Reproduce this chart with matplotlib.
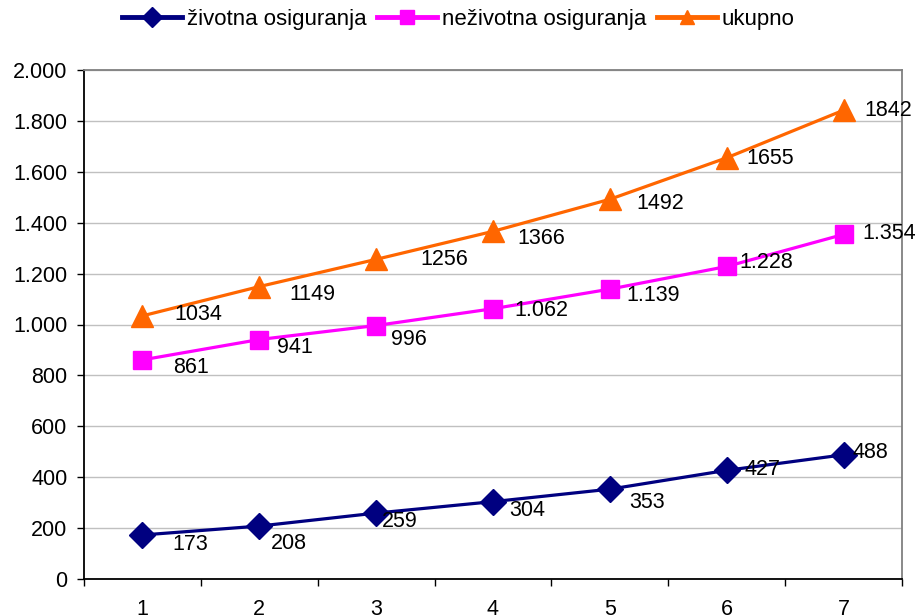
import matplotlib
matplotlib.use('Agg')
import matplotlib.pyplot as plt
from matplotlib.ticker import FuncFormatter, FixedLocator
from matplotlib.lines import Line2D

plt.rcParams['font.family'] = ['Liberation Sans', 'DejaVu Sans']

#%% data
categories = ['1', '2', '3', '4', '5', '6', '7']
zivotna = [173, 208, 259, 304, 353, 427, 488]
nezivotna = [861, 941, 996, 1062, 1139, 1228, 1354]
ukupno = [1034, 1149, 1256, 1366, 1492, 1655, 1842]

zivotna_lbl = ['173', '208', '259', '304', '353', '427', '488']
nezivotna_lbl = ['861', '941', '996', '1.062', '1.139', '1.228', '1.354']
ukupno_lbl = ['1034', '1149', '1256', '1366', '1492', '1655', '1842']

# label offsets in pixels (dx right, dy down)
off_ziv = [(48, 10), (30, 17), (24, 8), (34, 9), (37, 13), (36, -1), (27, -2)]
off_nez = [(49, 8), (36, 8), (33, 14), (48, 2), (43, 6), (40, -4), (46, -1)]
off_uk = [(56, -1), (53, 8), (68, 0), (48, 7), (50, 4), (43, 1), (45, 0)]

FS = 15.5

#%% plot
fig = plt.figure(figsize=(9.17, 6.16), dpi=100, facecolor='w')
ax = fig.add_axes([84/917, 37/616, 818/917, 509/616])

x = [i + 0.5 for i in range(len(categories))]
series = [
    (zivotna, zivotna_lbl, off_ziv, '#000080', 'D', 13, 'životna osiguranja'),
    (nezivotna, nezivotna_lbl, off_nez, '#FF00FF', 's', 13.5, 'neživotna osiguranja'),
    (ukupno, ukupno_lbl, off_uk, '#FF6600', '^', 16, 'ukupno'),
]
handles = []
for vals, lbls, offs, col, mk, ms, name in series:
    ax.plot(x, vals, color=col, lw=2.3, marker=mk, ms=ms, mec=col, mfc=col, zorder=3)
    for xi, v, t, (dx, dy) in zip(x, vals, lbls, offs):
        ax.annotate(t, (xi, v), xytext=(dx, -dy), textcoords='offset pixels',
                    ha='center', va='center', fontsize=FS, color='black', zorder=4)
    handles.append(Line2D([], [], color=col, lw=3.5, marker=mk, ms=10, mec=col, mfc=col, label=name))

ax.set_xlim(0, 7)
ax.set_ylim(0, 2000)
ax.set_yticks(range(0, 2001, 200))
ax.yaxis.set_major_formatter(FuncFormatter(lambda v, p: f'{int(v):,}'.replace(',', '.')))
ax.grid(True, axis='y', color='#c0c0c0', lw=1)
ax.set_axisbelow(True)

ax.xaxis.set_major_locator(FixedLocator(range(0, 8)))
ax.xaxis.set_minor_locator(FixedLocator(x))
ax.set_xticklabels([], minor=False)
ax.set_xticklabels(categories, minor=True)
ax.tick_params(axis='x', which='major', direction='out', length=5, width=1, color='black')
ax.tick_params(axis='x', which='minor', length=0, pad=14.5, labelsize=FS)
ax.tick_params(axis='y', direction='out', length=5, width=1, pad=7, labelsize=FS)

for s in ['left', 'bottom']:
    ax.spines[s].set_color('black')
    ax.spines[s].set_linewidth(1.3)
for s in ['top', 'right']:
    ax.spines[s].set_color('#808080')
    ax.spines[s].set_linewidth(1.3)

fig.legend(handles=handles, loc='center', bbox_to_anchor=(0.5, 1 - 19/616), ncol=3,
           frameon=False, fontsize=16, handlelength=2.7, handletextpad=0.2,
           columnspacing=0.5, borderpad=0)

plt.savefig('out.png', dpi=100)
